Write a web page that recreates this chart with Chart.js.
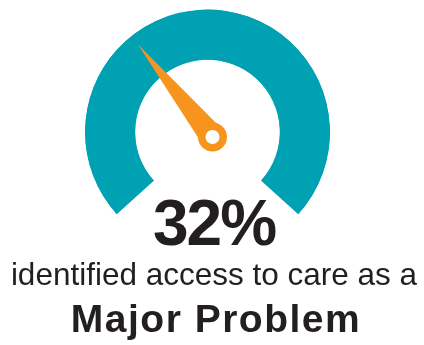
<!DOCTYPE html>
<html>
<head>
<meta charset="utf-8">
<script src="https://cdn.jsdelivr.net/npm/chart.js@4"></script>
<style>
  html, body { margin: 0; padding: 0; background: #fff; }
  #wrap { position: relative; width: 424px; height: 345px; overflow: hidden; }
  #gauge { position: absolute; left: 0; top: 0; }
  .txt { position: absolute; left: 0; width: 424px; text-align: center; color: #231f20;
         font-family: "Liberation Sans", Arial, sans-serif; white-space: nowrap; line-height: 1; }
  #pct { top: 191px; font-size: 64px; font-weight: bold; letter-spacing: -2px; padding-left: 4px; box-sizing: border-box; }
  #sub { top: 259px; font-size: 31.5px; padding-left: 4px; box-sizing: border-box; }
  #major { top: 299px; font-size: 39px; font-weight: bold; letter-spacing: 1.5px; padding-left: 8px; box-sizing: border-box; }
</style>
</head>
<body>
<div id="wrap">
  <canvas id="gauge" width="424" height="345"></canvas>
  <div class="txt" id="pct"></div>
  <div class="txt" id="sub"></div>
  <div class="txt" id="major"></div>
</div>
<script>
// gauge data
const gaugeSegments = [32, 68];       // share answering "major problem" vs rest
const gaugeValue = 32;                // headline number
const needleValue = 35.3;             // where the needle sits on the 0-100 dial
const captionLine = 'identified access to care as a';
const captionBold = 'Major Problem';

const teal = '#00a1b3';
const orange = '#f7941e';

document.getElementById('pct').textContent = gaugeValue + '%';
document.getElementById('sub').textContent = captionLine;
document.getElementById('major').textContent = captionBold;

const needlePlugin = {
    id: 'needle',
    afterDatasetsDraw(chart) {
        const arc = chart.getDatasetMeta(0).data[0];
        if (!arc) return;
        const ctx = chart.ctx;
        const rot = chart.options.rotation;
        const circ = chart.options.circumference;
        // angle measured clockwise from 12 o'clock
        const deg = rot + circ * needleValue / 100;
        const a = (deg - 90) * Math.PI / 180;
        const px = arc.x + 5;
        const py = arc.y + 5;
        const len = arc.outerRadius * 0.975;
        const tx = px + Math.cos(a) * len;
        const ty = py + Math.sin(a) * len;
        const nx = -Math.sin(a), ny = Math.cos(a);
        const half = 12.5;

        ctx.save();
        ctx.fillStyle = orange;
        ctx.beginPath();
        ctx.moveTo(tx, ty);
        ctx.lineTo(px + nx * half, py + ny * half);
        ctx.lineTo(px - nx * half, py - ny * half);
        ctx.closePath();
        ctx.fill();
        ctx.beginPath();
        ctx.arc(px, py, 14.5, 0, Math.PI * 2);
        ctx.fill();
        ctx.fillStyle = '#fff';
        ctx.beginPath();
        ctx.arc(px, py, 7, 0, Math.PI * 2);
        ctx.fill();
        ctx.restore();
    }
};

new Chart(document.getElementById('gauge'), {
    type: 'doughnut',
    data: {
        labels: ['Major problem', 'Other'],
        datasets: [{
            data: gaugeSegments,
            backgroundColor: [teal, teal],
            borderColor: teal,
            borderWidth: 1.5,
            borderAlign: 'inner',
            hoverOffset: 0
        }]
    },
    options: {
        responsive: false,
        animation: false,
        rotation: -132,
        circumference: 264,
        cutout: '59%',
        layout: {
            padding: { left: 85, right: 94, top: 9.5, bottom: 131 }
        },
        plugins: {
            legend: { display: false },
            tooltip: { enabled: false }
        }
    },
    plugins: [needlePlugin]
});
</script>
</body>
</html>
